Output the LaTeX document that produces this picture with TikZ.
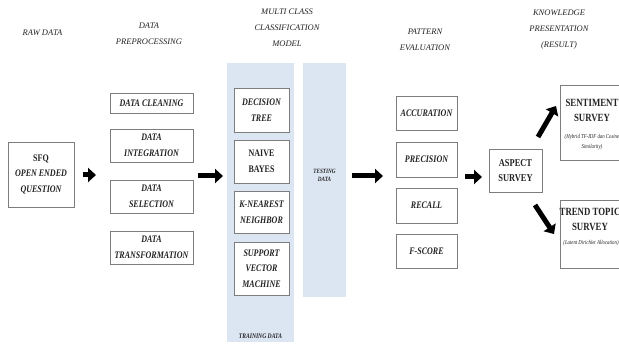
\documentclass[tikz,border=0pt]{standalone}
\usepackage{fontspec}
\setmainfont{Liberation Serif}
\newfontfamily\condf[FakeStretch=0.8]{Liberation Serif}
\usetikzlibrary{arrows.meta}
\definecolor{panelblue}{RGB}{220,230,242}
\definecolor{boxline}{RGB}{125,125,125}
\definecolor{txt}{RGB}{35,35,35}
\begin{document}
\begin{tikzpicture}[x=1pt,y=-1pt,
  box/.style={draw=boxline, line width=0.5pt, fill=white, inner sep=0pt, align=center, text=txt,
    font=\condf\fontsize{10}{15.5}\selectfont\bfseries\itshape},
  hdr/.style={align=center, inner sep=0pt, text=txt, font=\fontsize{8.5}{16}\selectfont\itshape},
  panel/.style={fill=panelblue, draw=none, inner sep=0pt},
  small/.style={inner sep=0pt, text=txt, align=center, font=\condf\fontsize{7}{9}\selectfont\bfseries\itshape},
  tiny/.style={inner sep=0pt, text=txt, align=center, font=\condf\fontsize{6}{10}\selectfont\itshape},
  big/.style={inner sep=0pt, text=txt, align=center, font=\condf\fontsize{11}{15}\selectfont\bfseries},
  bigarrow/.style={line width=5pt, -{Triangle[length=8pt,width=14pt]}},
]
\clip (0,0) rectangle (619,344);
\fill[white] (0,0) rectangle (619,344);

% headers
\node[hdr] (h1) at (42.5,33) {RAW DATA};
\node[hdr] (h2) at (149,34) {DATA\\PREPROCESSING};
\node[hdr] (h3) at (287,28) {MULTI CLASS\\CLASSIFICATION\\MODEL};
\node[hdr] (h4) at (425,40) {PATTERN\\EVALUATION};
\node[hdr] (h5) at (559,30) {KNOWLEDGE\\PRESENTATION\\(RESULT)};

% raw data
\node[box, minimum width=66pt, minimum height=65pt] (sfq) at (41,174.5) {{\upshape SFQ}\\OPEN ENDED\\QUESTION};

% preprocessing
\node[box, minimum width=83pt, minimum height=20pt] (clean) at (151.5,103) {DATA CLEANING};
\node[box, minimum width=83pt, minimum height=33pt] (integ) at (151.5,145.5) {DATA\\INTEGRATION};
\node[box, minimum width=83pt, minimum height=33pt] (sel) at (151.5,196.5) {DATA\\SELECTION};
\node[box, minimum width=83pt, minimum height=33pt] (trans) at (151.5,247.5) {DATA\\TRANSFORMATION};

% panels
\node[panel, minimum width=67pt, minimum height=279pt] (train) at (260.5,202.5) {};
\node[panel, minimum width=43pt, minimum height=234pt] (test) at (324.5,180) {};
\node[small] (trainlbl) at (260.5,336) {TRAINING DATA};
\node[small, font=\condf\fontsize{6.5}{8}\selectfont\bfseries\itshape] (testlbl) at (324.5,175) {TESTING\\DATA};

% classifiers
\node[box, minimum width=55pt, minimum height=44pt] (dt) at (261.5,110) {DECISION\\TREE};
\node[box, minimum width=55pt, minimum height=43pt] (nb) at (261.5,161.5) {{\upshape NAIVE}\\{\upshape BAYES}};
\node[box, minimum width=55pt, minimum height=42pt] (knn) at (261.5,212) {K-NEAREST\\NEIGHBOR};
\node[box, minimum width=55pt, minimum height=53pt] (svm) at (261.5,268.5) {SUPPORT\\VECTOR\\MACHINE};

% evaluation
\node[box, minimum width=61pt, minimum height=34pt] (acc) at (426.5,113) {ACCURATION};
\node[box, minimum width=61pt, minimum height=35pt] (prec) at (426.5,159.5) {PRECISION};
\node[box, minimum width=61pt, minimum height=35pt] (rec) at (426.5,205.5) {RECALL};
\node[box, minimum width=61pt, minimum height=34pt] (fs) at (426.5,251) {F-SCORE};

% aspect
\node[box, minimum width=53pt, minimum height=43pt, font=\condf\fontsize{10.5}{15.5}\selectfont\bfseries] (asp) at (515.5,170.5) {ASPECT\\SURVEY};

% results
\node[box, minimum width=68pt, minimum height=75pt] (sent) at (594,122.5) {};
\node[big] (sentt) at (592,110.5) {SENTIMENT\\SURVEY};
\node[tiny] (sents) at (592,142) {(Hybrid TF-IDF dan Cosine\\Similarity)};
\node[box, minimum width=68pt, minimum height=68pt] (trend) at (594,234) {};
\node[big] (trendt) at (590,219.5) {TREND TOPIC\\SURVEY};
\node[tiny] (trends) at (591,243) {(Latent Dirichlet Allocation)};

% arrow end coordinates
\coordinate (a1s) at (83,175);  \coordinate (a1e) at (96,175);
\coordinate (a2s) at (198,176); \coordinate (a2e) at (223,176);
\coordinate (a3s) at (352,176); \coordinate (a3e) at (383,176);
\coordinate (a4s) at (465,177); \coordinate (a4e) at (482,177);
\coordinate (a5s) at (538,137); \coordinate (a5e) at (556,106);
\coordinate (a6s) at (535,205); \coordinate (a6e) at (554,234);

\draw[bigarrow] (a1s) -- (a1e);
\draw[bigarrow] (a2s) -- (a2e);
\draw[bigarrow] (a3s) -- (a3e);
\draw[bigarrow] (a4s) -- (a4e);
\draw[bigarrow] (a5s) -- (a5e);
\draw[bigarrow] (a6s) -- (a6e);
\end{tikzpicture}
\end{document}
